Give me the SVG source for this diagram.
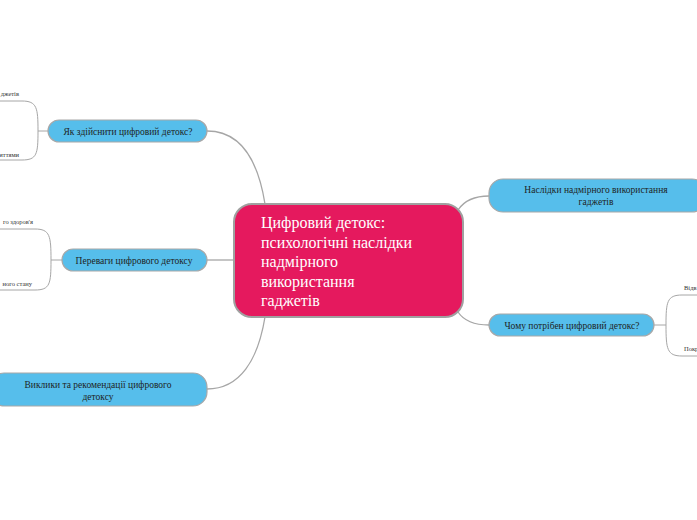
<svg xmlns="http://www.w3.org/2000/svg" width="697" height="520" viewBox="0 0 697 520">
<style>
.bg{fill:#ffffff}
.conn{fill:none;stroke:#a6a6a6;stroke-width:1.3}
.sub{fill:none;stroke:#a6a6a6;stroke-width:1}
.topic{fill:#56beeb;stroke:#a8a8a8;stroke-width:1.2}
.root{fill:#e5195e;stroke:#a0a0a0;stroke-width:2}
.t{font-family:"Liberation Serif","Times New Roman",serif;font-size:9.5px;fill:#1e1e1e;text-anchor:middle}
.rt{font-family:"Liberation Serif","Times New Roman",serif;font-size:16px;fill:#ffffff}
.st{font-family:"Liberation Serif","Times New Roman",serif;font-size:6.5px;fill:#333333}
</style>
<rect class="bg" x="0" y="0" width="697" height="520"/>
<g id="connectors">
<path class="conn" d="M207,131 C240,131 258,160 265,204"/>
<path class="conn" d="M207,260 L234,260"/>
<path class="conn" d="M207,389 C240,389 258,360 265,317"/>
<path class="conn" d="M489,196 C470,196 462,204 458,210"/>
<path class="conn" d="M489,325 C470,325 462,318 458,312"/>
<path class="sub" d="M48,131 L38,131 M38,131 C38,108 37,101 22,101 L0,101 M38,131 C38,154 37,160 22,160 L0,160"/>
<path class="sub" d="M62,260 L51,260 M51,260 C51,236 50,229 35,229 L0,229 M51,260 C51,284 50,290 35,290 L0,290"/>
<path class="sub" d="M654,325 L666,325 M666,325 C666,302 667,295 682,295 L697,295 M666,325 C666,349 667,356 682,356 L697,356"/>
</g>
<g id="root">
<rect class="root" x="234" y="204" width="229" height="113" rx="18"/>
<text class="rt" x="261" y="228">Цифровий детокс:</text>
<text class="rt" x="261" y="247.5">психологічні наслідки</text>
<text class="rt" x="261" y="267">надмірного</text>
<text class="rt" x="261" y="287">використання</text>
<text class="rt" x="261" y="306">гаджетів</text>
</g>
<g id="node-how">
<rect class="topic" x="48" y="120" width="159" height="22" rx="11"/>
<text class="t" x="128" y="134.5">Як здійснити цифровий детокс?</text>
</g>
<g id="node-benefits">
<rect class="topic" x="62" y="249" width="145" height="22" rx="11"/>
<text class="t" x="134" y="263.5">Переваги цифрового детоксу</text>
</g>
<g id="node-challenges">
<rect class="topic" x="-10" y="373" width="217" height="33" rx="14"/>
<text class="t" x="98" y="387.5">Виклики та рекомендації цифрового</text>
<text class="t" x="98" y="399.5">детоксу</text>
</g>
<g id="node-consequences">
<rect class="topic" x="489" y="179" width="217" height="33" rx="14"/>
<text class="t" x="596" y="192.5">Наслідки надмірного використання</text>
<text class="t" x="596" y="204.5">гаджетів</text>
</g>
<g id="node-why">
<rect class="topic" x="489" y="314" width="165" height="22" rx="11"/>
<text class="t" x="572" y="329">Чому потрібен цифровий детокс?</text>
</g>
<g id="sub-how-1"><text class="st" x="19" y="96" text-anchor="end">джетів</text></g>
<g id="sub-how-2"><text class="st" x="19" y="157" text-anchor="end">иттями</text></g>
<g id="sub-benefits-1"><text class="st" x="33" y="224" text-anchor="end">го здоров'я</text></g>
<g id="sub-benefits-2"><text class="st" x="32" y="286" text-anchor="end">ного стану</text></g>
<g id="sub-why-1"><text class="st" x="684" y="290">Відв</text></g>
<g id="sub-why-2"><text class="st" x="684" y="351">Покр</text></g>
</svg>
